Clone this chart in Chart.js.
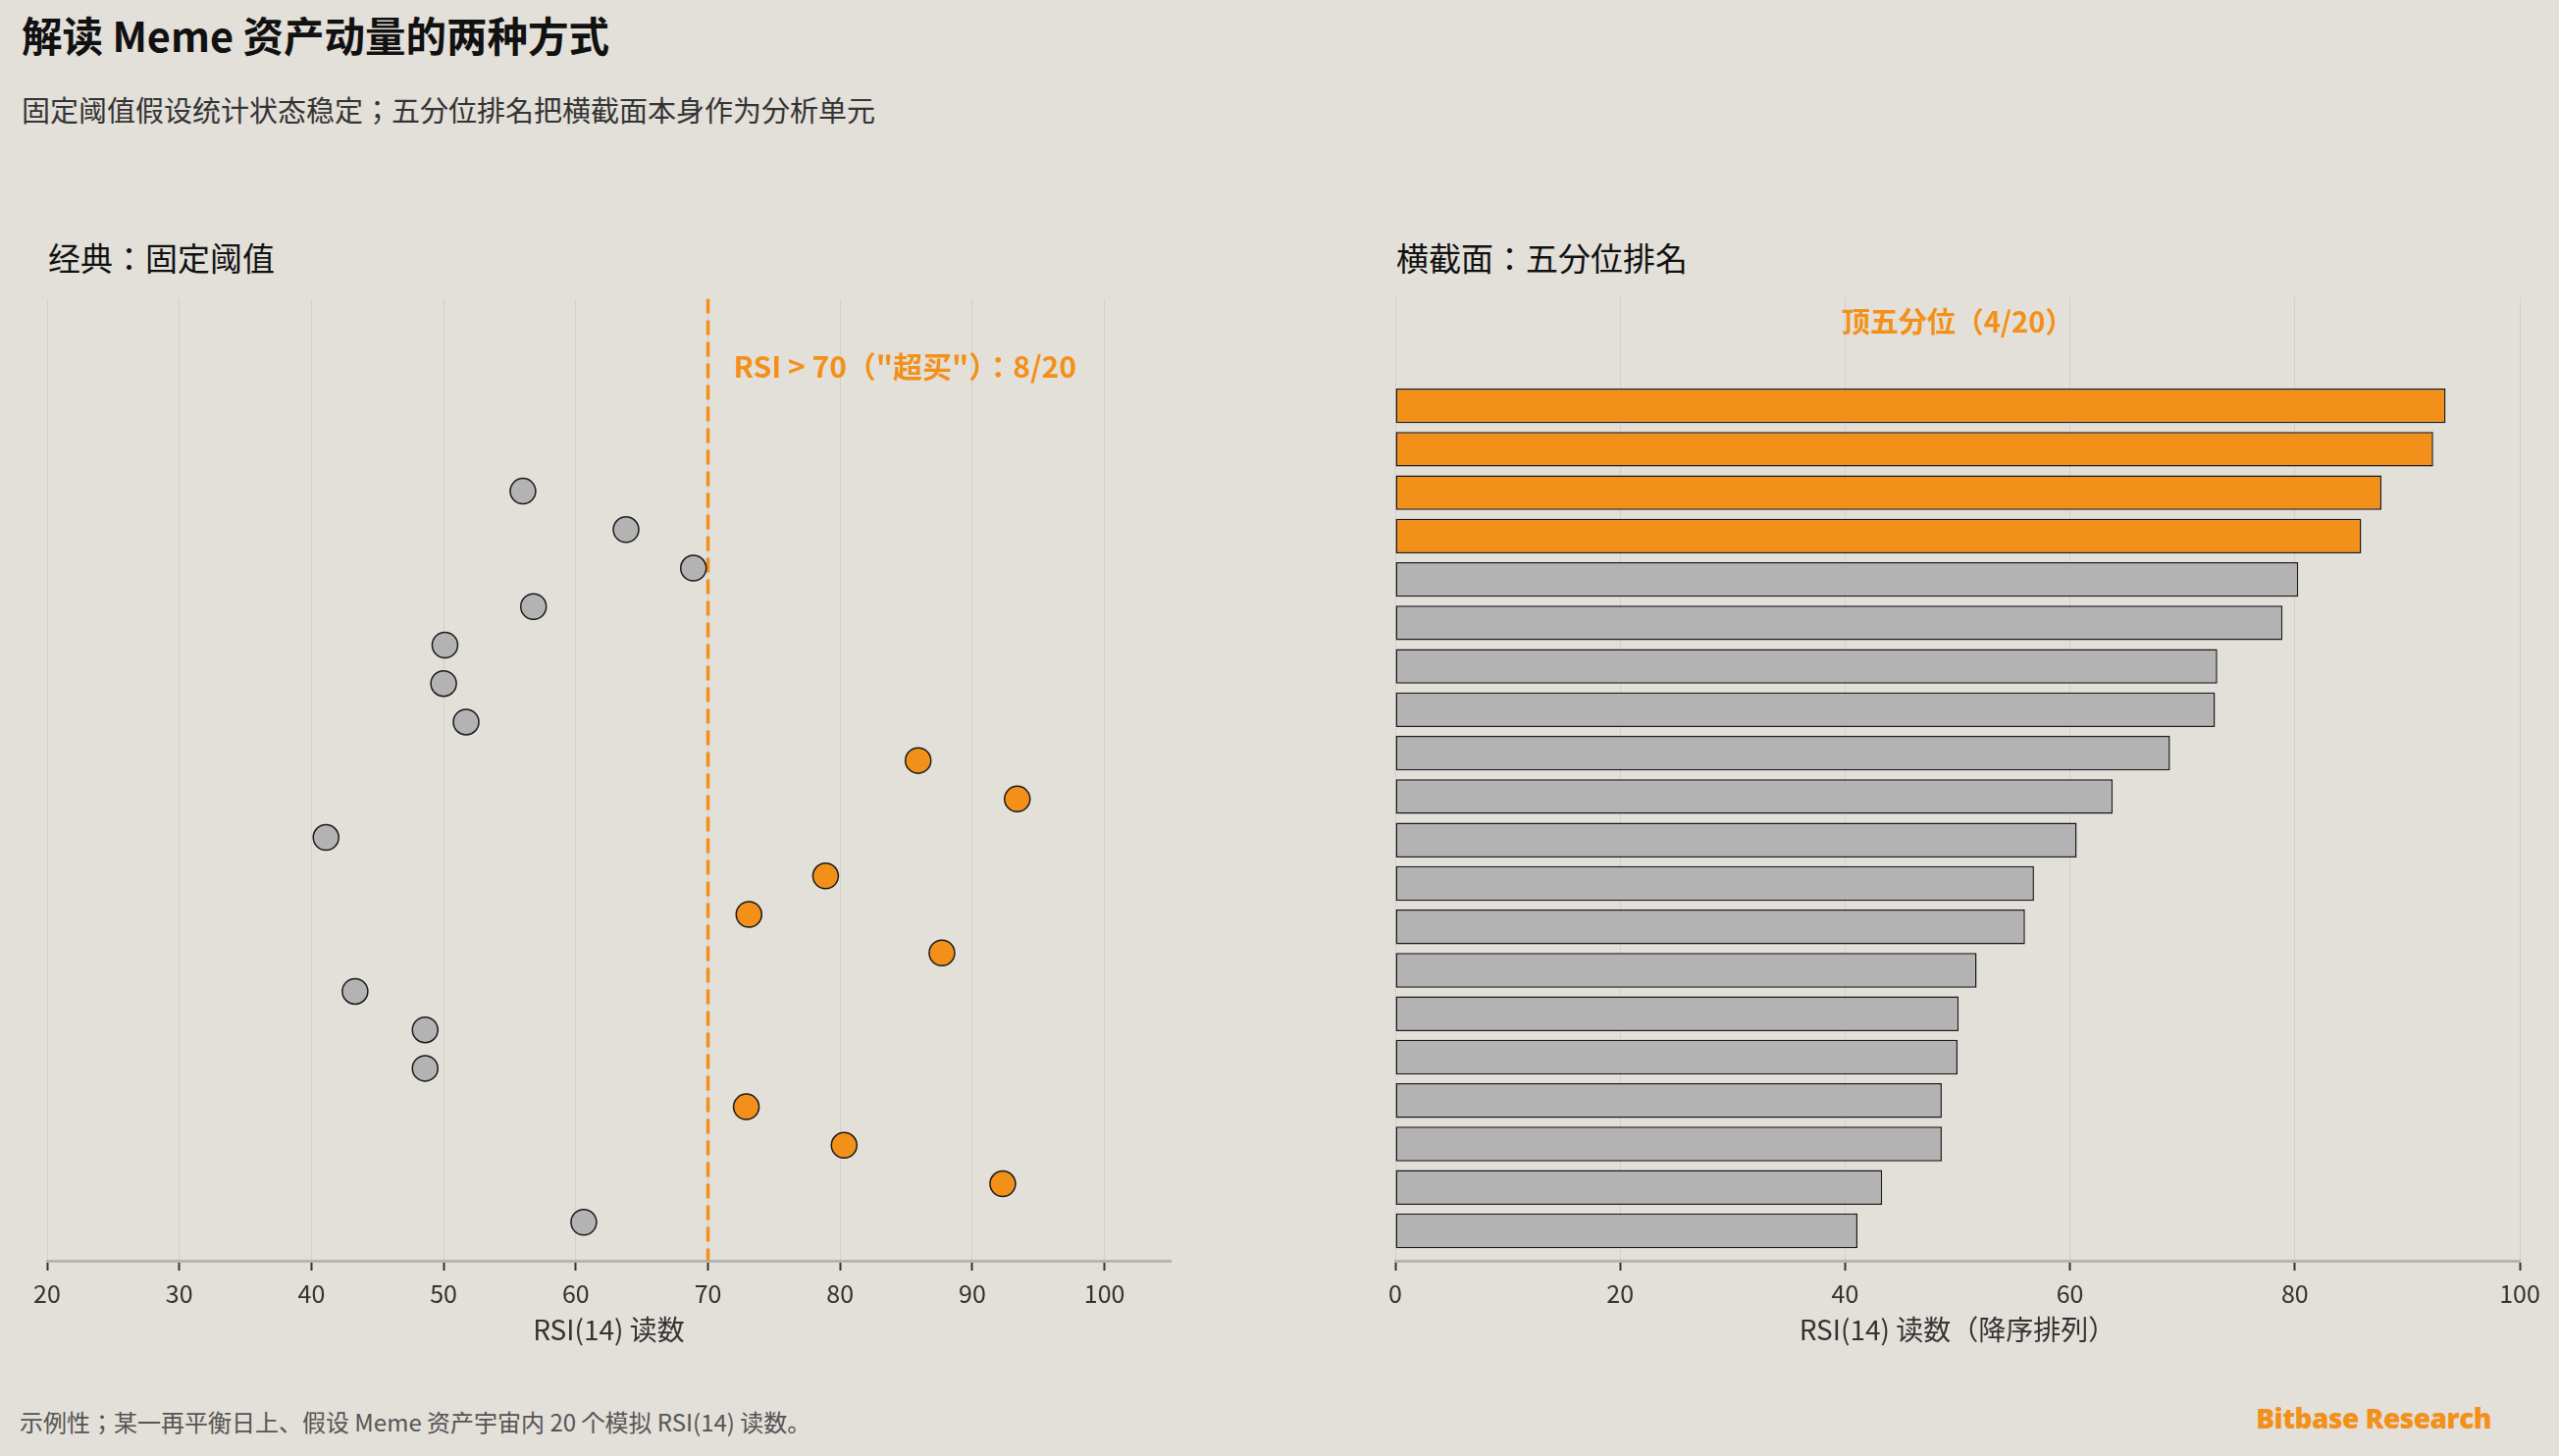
<!DOCTYPE html>
<html>
<head>
<meta charset="utf-8">
<script src="https://cdn.jsdelivr.net/npm/chart.js@4.4.0/dist/chart.umd.min.js"></script>
<style>
  html, body { margin: 0; padding: 0; }
  body {
    width: 2608px; height: 1484px; position: relative; overflow: hidden;
    background: #E3DFD9;
    font-family: "Noto Sans CJK JP", "Noto Sans", sans-serif;
  }
  .txt { position: absolute; white-space: nowrap; line-height: 1; }
  #title { left: 22px; top: 15px; font-size: 41.5px; font-weight: 700; color: #111; }
  #subtitle { left: 22px; top: 97px; font-size: 29px; color: #333; }
  .panel { top: 246px; font-size: 33px; color: #111; }
  #leftTitle { left: 49px; }
  #rightTitle { left: 1423px; }
  #note { left: 20px; top: 1437px; font-size: 24px; color: #555; }
  #brand { right: 69px; top: 1431px; font-size: 28px; font-weight: 800; color: #F39019;
           font-family: "Open Sans", "Noto Sans", sans-serif; letter-spacing: -0.5px; }
  canvas { position: absolute; }
  #leftChart { left: 0px; top: 290px; }
  #rightChart { left: 1380px; top: 290px; }
</style>
</head>
<body>
<div class="txt" id="title">解读 Meme 资产动量的两种方式</div>
<div class="txt" id="subtitle">固定阈值假设统计状态稳定；五分位排名把横截面本身作为分析单元</div>
<div class="txt panel" id="leftTitle">经典：固定阈值</div>
<div class="txt panel" id="rightTitle">横截面：五分位排名</div>
<canvas id="leftChart" width="1260" height="1100"></canvas>
<canvas id="rightChart" width="1228" height="1100"></canvas>
<div class="txt" id="note">示例性；某一再平衡日上、假设 Meme 资产宇宙内 20 个模拟 RSI(14) 读数。</div>
<div class="txt" id="brand">Bitbase Research</div>

<script>
// RSI(14) readings, one per asset, in the order they appear top to bottom
const rsiValues = [56.0, 63.8, 68.9, 56.8, 50.1, 50.0, 51.7, 85.9, 93.4, 41.1,
                   78.9, 73.1, 87.7, 43.3, 48.6, 48.6, 72.9, 80.3, 92.3, 60.6];
const overboughtLevel = 70;
const topQuintileCount = 4;

const leftTicks = [20, 30, 40, 50, 60, 70, 80, 90, 100];
const rightTicks = [0, 20, 40, 60, 80, 100];

// Colors
const orange = '#F39019';
const gray = '#B3B3B3';
const edge = '#1a1a1a';
const gridColor = '#D3CFC9';
const axisColor = '#B5B5B5';
const textColor = '#333';
const fontFamily = '"Noto Sans CJK JP", "Noto Sans", sans-serif';

Chart.defaults.font.family = fontFamily;
Chart.defaults.color = textColor;

// ranked copy for the cross-section panel
const rankedValues = rsiValues.slice().sort((a, b) => b - a);
const overCount = rsiValues.filter(v => v > overboughtLevel).length;

function xScale(min, max, step, tickList) {
    return {
        type: 'linear',
        min: min,
        max: max,
        afterBuildTicks: (scale) => {
            scale.ticks = tickList.map(v => ({ value: v }));
        },
        afterFit: (scale) => { scale.height = 105; },
        ticks: {
            stepSize: step,
            padding: 8,
            font: { size: 25 },
            color: textColor
        },
        grid: {
            color: gridColor,
            lineWidth: 1,
            tickLength: 10,
            tickColor: '#333',
            tickWidth: 2
        },
        border: { color: axisColor, width: 3 },
        title: {
            display: true,
            font: { size: 28 },
            color: textColor,
            padding: { top: 0, bottom: 18 }
        }
    };
}

// Draws the orange labels on top of each panel
const labelPlugin = {
    id: 'labelPlugin',
    afterDatasetsDraw(chart, args, opts) {
        const ctx = chart.ctx;
        const area = chart.chartArea;
        ctx.save();
        ctx.fillStyle = orange;
        ctx.textBaseline = 'middle';
        if (opts.mode === 'threshold') {
            ctx.font = 'bold 30px ' + fontFamily;
            ctx.textAlign = 'left';
            let x = chart.scales.x.getPixelForValue(overboughtLevel) + 26;
            ctx.fillText(opts.text, x, area.top + 69);
        } else {
            ctx.font = 'bold 29px ' + fontFamily;
            ctx.textAlign = 'center';
            ctx.fillText(opts.text, (area.left + area.right) / 2, area.top + 25);
        }
        ctx.restore();
    }
};

// Left: fixed threshold scatter
let leftX = xScale(20, 105, 10, leftTicks);
leftX.title.text = 'RSI(14) 读数';

new Chart(document.getElementById('leftChart'), {
    type: 'scatter',
    data: {
        datasets: [
            {
                label: 'threshold',
                type: 'line',
                data: [{ x: overboughtLevel, y: -5 }, { x: overboughtLevel, y: 20 }],
                borderColor: orange,
                borderWidth: 3.5,
                borderDash: [15, 7],
                pointRadius: 0,
                fill: false,
                order: 2
            },
            {
                label: 'RSI',
                data: rsiValues.map((v, i) => ({ x: v, y: i })),
                pointRadius: 13,
                pointBackgroundColor: rsiValues.map(v => v > overboughtLevel ? orange : gray),
                pointBorderColor: edge,
                pointBorderWidth: 1.5,
                order: 1
            }
        ]
    },
    options: {
        responsive: false,
        animation: false,
        devicePixelRatio: 1,
        layout: { padding: { left: 48, right: 67, top: 13, bottom: 0 } },
        plugins: {
            legend: { display: false },
            tooltip: { enabled: false },
            labelPlugin: { mode: 'threshold', text: 'RSI > ' + overboughtLevel + '（"超买"）：' + overCount + '/' + rsiValues.length }
        },
        scales: {
            x: leftX,
            y: { type: 'linear', display: false, reverse: true, min: -5, max: 20 }
        }
    },
    plugins: [labelPlugin]
});

// Right: ranked horizontal bars
let rightX = xScale(0, 100, 20, rightTicks);
rightX.title.text = 'RSI(14) 读数（降序排列）';

new Chart(document.getElementById('rightChart'), {
    type: 'bar',
    data: {
        datasets: [{
            label: 'RSI ranked',
            data: rankedValues.map((v, i) => ({ x: v, y: i })),
            backgroundColor: rankedValues.map((v, i) => i < topQuintileCount ? orange : gray),
            borderColor: edge,
            borderWidth: 1.5,
            borderSkipped: false,
            barPercentage: 0.8,
            categoryPercentage: 1.0
        }]
    },
    options: {
        indexAxis: 'y',
        responsive: false,
        animation: false,
        devicePixelRatio: 1,
        layout: { padding: { left: 42, right: 40, top: 13, bottom: 0 } },
        plugins: {
            legend: { display: false },
            tooltip: { enabled: false },
            labelPlugin: { mode: 'quintile', text: '顶五分位（' + topQuintileCount + '/' + rankedValues.length + '）' }
        },
        scales: {
            x: rightX,
            y: { type: 'linear', display: false, offset: false, reverse: true, min: -2.5, max: 19.69 }
        }
    },
    plugins: [labelPlugin]
});
</script>
</body>
</html>
